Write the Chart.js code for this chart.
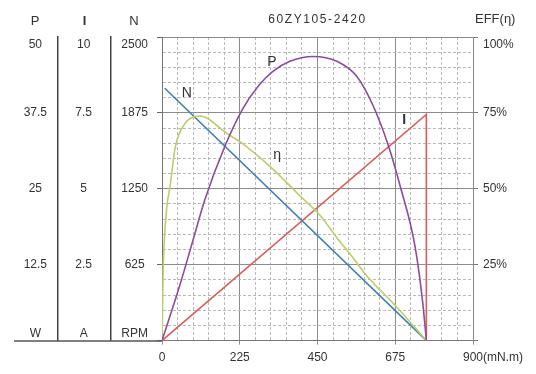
<!DOCTYPE html>
<html>
<head>
<meta charset="utf-8">
<script src="https://cdn.jsdelivr.net/npm/chart.js@4/dist/chart.umd.min.js"></script>
<style>
  html, body { margin: 0; padding: 0; background: #fff; }
  #wrap { width: 536px; height: 374px; }
</style>
</head>
<body>
<div id="wrap"><canvas id="motorChart" width="536" height="374"></canvas></div>
<script>
// ====================== 60ZY105-2420 motor curve ======================

const titleText = '60ZY105-2420';
const torqueMax = 900;          // mN.m
const majorTorque = 225;

// P (W) vs torque
const pTorque = [0, 52, 87, 124, 182, 234, 280, 320, 370, 437, 506, 564, 610, 654, 689, 732, 755, 765];
const pWatts  = [0, 9.2, 16, 23.2, 32.0, 38.2, 42.0, 44.3, 46.0, 46.8, 46.0, 43.5, 38.8, 32.3, 25.5, 15.6, 6, 0];

// efficiency (%) vs torque
const effTorque = [0, 1.5, 3, 6, 14, 23, 38, 67, 96, 110, 130, 182, 234, 321, 399, 457, 506, 550, 593, 680, 765];
const effPct    = [0, 9, 21.6, 31.3, 44.2, 50.6, 63.5, 71.6, 73.8, 74.0, 73.3, 68.7, 64.8, 56.5, 47.7, 41.3, 33.9, 27.7, 21.3, 11.0, 0];

// speed (RPM) vs torque
const nTorque = [8, 765];
const nRpm    = [2078, 0];

// current (A) vs torque
const iTorque = [0, 765, 765];
const iAmps   = [0, 7.45, 0];

// curve name labels (torque, rpm position)
const curveLabels = [
  { text: 'P', t: 318, n: 2290, bold: false },
  { text: 'N', t: 72,  n: 2040, bold: false },
  { text: 'η', t: 333, n: 1530, bold: false },
  { text: 'I', t: 701, n: 1815, bold: true }
];

const pts = (xs, ys) => xs.map((x, i) => ({ x: x, y: ys[i] }));

Chart.defaults.font.family = '"Liberation Sans", Arial, sans-serif';
Chart.defaults.font.size = 12;
Chart.defaults.color = '#333';

const MAJOR = '#8c8c8c';
const MINOR = '#b9b9b9';

// Headers, title, unit and curve names
const extras = {
  id: 'extras',
  afterDraw(chart) {
    const ctx = chart.ctx;
    const area = chart.chartArea;
    const s = chart.scales;
    ctx.save();
    ctx.fillStyle = '#333';
    ctx.textBaseline = 'middle';
    ctx.textAlign = 'center';

    // column headers
    ctx.font = '13px "Liberation Sans", Arial, sans-serif';
    ctx.fillText('P', (s.yP.left + s.yP.right) / 2, area.top - 16);
    ctx.fillText('N', (s.yN.left + s.yN.right - 5) / 2, area.top - 16);
    ctx.font = 'bold 13px "Liberation Sans", Arial, sans-serif';
    ctx.fillText('I', (s.yI.left + s.yI.right) / 2, area.top - 16);

    // title
    ctx.font = '12px "Liberation Sans", Arial, sans-serif';
    if ('letterSpacing' in ctx) ctx.letterSpacing = '1.6px';
    ctx.fillText(titleText, (area.left + area.right) / 2, area.top - 17);
    if ('letterSpacing' in ctx) ctx.letterSpacing = '0px';

    ctx.textAlign = 'left';
    ctx.font = '13px "Liberation Sans", Arial, sans-serif';
    ctx.fillText('EFF(η)', s.yE.left + 2, area.top - 18);

    // unit after the last torque label
    ctx.font = '12px "Liberation Sans", Arial, sans-serif';
    const x900 = s.x.getPixelForValue(torqueMax) + ctx.measureText('900').width / 2;
    ctx.fillText('(mN.m)', x900, s.x.top + 4 + 6 + 7.2);

    // base line under the left columns
    ctx.strokeStyle = '#555';
    ctx.lineWidth = 1.5;
    ctx.beginPath();
    ctx.moveTo(s.yP.left + 2, area.bottom + 0.5);
    ctx.lineTo(area.left, area.bottom + 0.5);
    ctx.stroke();

    // curve names
    ctx.textAlign = 'center';
    curveLabels.forEach(l => {
      ctx.font = (l.bold ? 'bold ' : '') + '14px "Liberation Sans", Arial, sans-serif';
      ctx.fillText(l.text, s.x.getPixelForValue(l.t), s.yN.getPixelForValue(l.n));
    });
    ctx.restore();
  }
};

const isMajorX = c => c.tick && c.tick.value % majorTorque === 0;
const isMajorN = c => c.tick && c.tick.value % 625 === 0;

new Chart(document.getElementById('motorChart'), {
  type: 'line',
  data: {
    datasets: [
      { label: 'P', data: pts(pTorque, pWatts), yAxisID: 'yP', borderColor: '#8d4b9e', borderWidth: 1.6, cubicInterpolationMode: 'monotone' },
      { label: 'η', data: pts(effTorque, effPct), yAxisID: 'yE', borderColor: '#bccd6a', borderWidth: 1.6, cubicInterpolationMode: 'monotone' },
      { label: 'N', data: pts(nTorque, nRpm), yAxisID: 'yN', borderColor: '#3d7fb3', borderWidth: 1.6 },
      { label: 'I', data: pts(iTorque, iAmps), yAxisID: 'yI', borderColor: '#dc5d58', borderWidth: 1.6 }
    ]
  },
  options: {
    responsive: false,
    animation: false,
    events: [],
    parsing: false,
    elements: { point: { radius: 0 }, line: { tension: 0 } },
    layout: { padding: { left: 12, top: 37, right: 0, bottom: 0 } },
    plugins: { legend: { display: false }, title: { display: false }, tooltip: { enabled: false } },
    scales: {
      x: {
        type: 'linear', min: 0, max: torqueMax,
        ticks: {
          stepSize: 45, autoSkip: false, maxRotation: 0, padding: 6,
          callback: v => v % majorTorque === 0 ? String(v) : ''
        },
        grid: {
          color: c => isMajorX(c) ? MAJOR : MINOR,
          tickLength: 4,
          tickColor: c => isMajorX(c) ? MAJOR : 'rgba(0,0,0,0)'
        },
        border: { color: '#777', dash: c => (c.tick && !isMajorX(c)) ? [3, 2] : [] },
        afterFit: sc => { sc.height = 27; }
      },
      yN: {
        position: 'left', weight: 1, min: 0, max: 2500,
        ticks: {
          stepSize: 125, autoSkip: false, padding: 9, crossAlign: 'center',
          callback: v => v === 0 ? ['RPM', ''] : v === 2500 ? ['', '2500'] : (v % 625 === 0 ? String(v) : '')
        },
        grid: {
          color: c => isMajorN(c) ? MAJOR : MINOR,
          tickLength: 5,
          tickColor: c => isMajorN(c) ? '#666' : 'rgba(0,0,0,0)'
        },
        border: { color: '#777', dash: c => (c.tick && !isMajorN(c)) ? [3, 2] : [] },
        afterFit: sc => { sc.width = 51; }
      },
      yI: {
        position: 'left', weight: 2, min: 0, max: 10,
        ticks: {
          stepSize: 2.5, autoSkip: false, padding: 19, crossAlign: 'center',
          callback: v => v === 0 ? ['A', ''] : v === 10 ? ['', '10'] : String(v)
        },
        grid: { drawOnChartArea: false, drawTicks: false },
        border: { color: '#444', width: 1.5 },
        afterFit: sc => { sc.width = 53; }
      },
      yP: {
        position: 'left', weight: 3, min: 0, max: 50,
        ticks: {
          stepSize: 12.5, autoSkip: false, padding: 11, crossAlign: 'center',
          callback: v => v === 0 ? ['W', ''] : v === 50 ? ['', '50'] : String(v)
        },
        grid: { drawOnChartArea: false, drawTicks: false },
        border: { color: '#444', width: 1.5 },
        afterFit: sc => { sc.width = 46; }
      },
      yE: {
        position: 'right', min: 0, max: 100,
        ticks: {
          stepSize: 25, autoSkip: false, padding: 5,
          callback: v => v === 0 ? '' : v === 100 ? ['', '100%'] : v + '%'
        },
        grid: { drawOnChartArea: false, tickLength: 5, tickColor: '#777' },
        border: { color: MAJOR },
        afterFit: sc => { sc.width = 63; }
      }
    }
  },
  plugins: [extras]
});
</script>
</body>
</html>
